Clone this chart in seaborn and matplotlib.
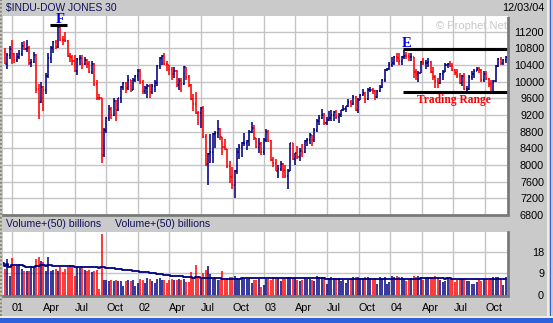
import numpy as np
import pandas as pd
import matplotlib
matplotlib.use("Agg")
import matplotlib.pyplot as plt
import matplotlib.dates as mdates
import seaborn as sns
from matplotlib.patches import Rectangle
from matplotlib.lines import Line2D

# ---------------- data (weekly bars, week starting Monday 2000-12-04) ----------------
first_week = "2000-12-04"
first_open = 10373

close_2000 = [10712, 10434, 10635, 10787]
high_2000 = [10900, 10800, 10700, 10850]
low_2000 = [10370, 10430, 10300, 10550]
vol_2000 = [13.4, 10.8, 14.8, 7.9]

close_2001 = [10662, 10525, 10587, 10659, 10864, 10781, 10799, 10441, 10466, 10644,
              9823, 9504, 9879, 9791, 10127, 10579, 10811, 10951, 10821, 11301,
              11005, 10991, 10977, 10623, 10604, 10502, 10252, 10539, 10577, 10417,
              10512, 10416, 10240, 10423, 9950, 9606, 9605, 8236, 8848, 9120,
              9344, 9205, 9545, 9324, 9608, 9867, 9960, 9852, 10049, 9812,
              10036, 10137, 10259]
high_2001 = [10990, 10700, 10700, 10760, 10950, 10980, 10990, 10850, 10550, 10720,
             10660, 9950, 9990, 9900, 10200, 10700, 10850, 10980, 10990, 11320,
             11350, 11100, 11190, 11000, 10700, 10650, 10650, 10580, 10650, 10640,
             10600, 10550, 10500, 10500, 10440, 10030, 9700, 9620, 8900, 9150,
             9430, 9400, 9600, 9550, 9620, 9900, 9990, 9990, 10150, 10050,
             10100, 10160, 10300]
low_2001 = [10430, 10450, 10480, 10540, 10620, 10750, 10720, 10400, 10350, 10450,
            9720, 9110, 9500, 9300, 9700, 10100, 10450, 10700, 10780, 10820,
            10970, 10870, 10950, 10600, 10480, 10400, 10240, 10150, 10400, 10300,
            10400, 10330, 10200, 10180, 9900, 9560, 9550, 8060, 8200, 8770,
            9050, 9100, 9180, 9050, 9300, 9500, 9800, 9730, 9800, 9750,
            9790, 9990, 10010]
vol_2001 = [15.2, 12.2, 12.0, 12.9, 10.8, 9.8, 9.8, 9.9, 12.2, 12.0,
            14.8, 15.7, 14.0, 13.6, 10.1, 15.7, 10.0, 10.3, 10.8, 10.0,
            11.5, 9.5, 10.8, 11.5, 12.5, 11.8, 8.0, 12.0, 11.5, 12.0,
            10.5, 9.8, 10.2, 9.5, 9.8, 10.5, 2.3, 25.5, 6.2, 6.0,
            5.8, 6.2, 5.9, 6.1, 5.5, 5.8, 3.8, 5.9, 6.2, 5.6,
            6.3, 3.5, 5.0]

close_2002 = [9988, 9772, 9841, 9908, 9745, 9904, 9968, 10368, 10572, 10608,
              10427, 10404, 10271, 10191, 10257, 9910, 10006, 9939, 10353, 10105,
              9925, 9589, 9474, 9253, 9243, 9380, 8684, 8019, 8264, 8313,
              8745, 8778, 8872, 8664, 8427, 8379, 7986, 7701, 7528, 7850,
              8322, 8444, 8517, 8537, 8579, 8804, 8896, 8645, 8433, 8511,
              8303, 8601]
high_2002 = [10300, 10050, 9900, 9950, 9950, 9950, 10050, 10400, 10600, 10650,
             10680, 10500, 10410, 10350, 10350, 10280, 10100, 10100, 10380, 10360,
             10150, 9950, 9700, 9750, 9300, 9400, 9420, 8750, 8300, 8750,
             8780, 8820, 9080, 8900, 8680, 8620, 8380, 8100, 7950, 7880,
             8400, 8500, 8560, 8780, 8600, 8850, 9040, 8950, 8650, 8650,
             8550, 8650]
low_2002 = [9940, 9700, 9700, 9600, 9620, 9700, 9750, 9900, 10300, 10400,
            10400, 10250, 10150, 10050, 10100, 9880, 9800, 9750, 9930, 10050,
            9880, 9550, 9300, 9230, 8950, 8900, 8650, 7980, 7530, 8050,
            8050, 8400, 8650, 8600, 8250, 8350, 7940, 7580, 7430, 7200,
            7780, 8150, 8200, 8450, 8350, 8450, 8780, 8600, 8400, 8300,
            8250, 8240]
vol_2002 = [6.5, 6.2, 4.8, 6.8, 6.5, 5.9, 5.0, 6.4, 6.9, 6.3,
            6.1, 4.7, 6.0, 6.4, 6.0, 6.2, 6.6, 6.3, 6.5, 5.4,
            5.2, 9.5, 7.0, 12.5, 8.0, 6.5, 9.0, 10.5, 11.8, 8.5,
            7.0, 6.8, 6.2, 6.0, 10.0, 6.2, 7.0, 7.2, 7.5, 7.8,
            7.0, 6.5, 6.8, 7.0, 6.5, 6.8, 5.0, 6.3, 6.0, 6.5,
            3.2, 4.2]

close_2003 = [8785, 8587, 8131, 8054, 7864, 7908, 8018, 7891, 7740, 7859,
              8522, 8145, 8278, 8203, 8338, 8307, 8583, 8604, 8713, 8601,
              8850, 9062, 9118, 9200, 9011, 9070, 9119, 9189, 9284, 9153,
              9191, 9321, 9348, 9415, 9503, 9471, 9644, 9313, 9572, 9674,
              9721, 9582, 9801, 9810, 9768, 9629, 9782, 9862, 10042, 10278,
              10305, 10409]
high_2003 = [8870, 8850, 8600, 8200, 8150, 8000, 8100, 8050, 8000, 7900,
             8540, 8530, 8300, 8450, 8400, 8500, 8600, 8650, 8760, 8720,
             8900, 9100, 9200, 9350, 9250, 9150, 9300, 9320, 9300, 9320,
             9250, 9330, 9450, 9420, 9590, 9550, 9680, 9660, 9600, 9700,
             9820, 9750, 9850, 9880, 9850, 9800, 9800, 9930, 10060, 10300,
             10330, 10470]
low_2003 = [8550, 8560, 8100, 7950, 7850, 7700, 7850, 7680, 7700, 7420,
            7850, 8120, 7990, 8150, 8100, 8200, 8280, 8450, 8500, 8450,
            8550, 8800, 8950, 9100, 8950, 8950, 9050, 9050, 9050, 9100,
            9000, 9150, 9300, 9280, 9400, 9400, 9450, 9300, 9250, 9550,
            9650, 9500, 9560, 9750, 9700, 9550, 9600, 9750, 9850, 10000,
            10250, 10280]
vol_2003 = [6.5, 6.7, 6.2, 7.3, 7.0, 6.8, 5.6, 7.1, 6.6, 7.3,
            7.5, 6.8, 6.9, 6.2, 5.5, 6.0, 6.9, 6.7, 6.6, 6.3,
            5.9, 7.6, 7.3, 7.4, 7.2, 4.6, 6.8, 7.3, 7.0, 7.1,
            6.8, 5.5, 6.3, 4.8, 6.1, 6.9, 7.4, 7.5, 7.2, 6.8,
            7.0, 7.3, 7.5, 7.0, 6.6, 6.9, 4.4, 7.2, 7.0, 7.5,
            4.5, 5.2]

close_2004 = [10458, 10600, 10568, 10488, 10593, 10628, 10620, 10584, 10595, 10240,
              10186, 10212, 10470, 10442, 10452, 10472, 10226, 10118, 10012, 9966,
              10188, 10243, 10410, 10417, 10371, 10283, 10214, 10140, 9962, 10140,
              9815, 9825, 10110, 10196, 10260, 10314, 10284, 10047, 10193, 10055,
              9933, 9758, 10027, 10387, 10539, 10456, 10522, 10592]
high_2004 = [10600, 10620, 10700, 10680, 10620, 10760, 10720, 10680, 10700, 10600,
             10300, 10250, 10500, 10570, 10530, 10560, 10500, 10350, 10150, 10100,
             10200, 10280, 10450, 10450, 10500, 10450, 10300, 10300, 10200, 10150,
             10200, 9900, 10150, 10250, 10300, 10350, 10350, 10300, 10250, 10250,
             10100, 10050, 10050, 10400, 10580, 10600, 10550, 10620]
low_2004 = [10350, 10400, 10480, 10400, 10400, 10550, 10550, 10500, 10500, 10100,
            10050, 10000, 10200, 10400, 10300, 10350, 10200, 10050, 9850, 9850,
            9950, 10050, 10230, 10330, 10350, 10250, 10150, 10100, 9950, 9900,
            9800, 9750, 9800, 10050, 10100, 10250, 10200, 10000, 10000, 10030,
            9880, 9750, 9710, 9990, 10350, 10400, 10400, 10450]
vol_2004 = [7.6, 7.4, 7.8, 7.5, 7.3, 6.9, 5.9, 6.7, 6.8, 7.6,
            7.4, 7.8, 7.2, 6.0, 6.8, 7.3, 7.3, 7.0, 7.6, 7.0,
            6.2, 5.3, 5.8, 6.9, 6.4, 6.6, 5.2, 6.0, 6.5, 6.7,
            6.4, 5.5, 5.8, 4.5, 4.6, 5.3, 6.1, 5.7, 6.5, 6.6,
            6.2, 6.8, 7.2, 7.4, 7.3, 7.1, 4.2, 7.5]

quarter_labels = ["01", "Apr", "Jul", "Oct", "02", "Apr", "Jul", "Oct",
                  "03", "Apr", "Jul", "Oct", "04", "Apr", "Jul", "Oct"]
price_ticks = [6800, 7200, 7600, 8000, 8400, 8800, 9200, 9600, 10000, 10400, 10800, 11200]
vol_ticks = [0, 9, 18]
ma_window = 50
range_top, range_bottom = 10774, 9744

# ---------------- assemble ----------------
close = np.array(close_2000 + close_2001 + close_2002 + close_2003 + close_2004, float)
high = np.array(high_2000 + high_2001 + high_2002 + high_2003 + high_2004, float)
low = np.array(low_2000 + low_2001 + low_2002 + low_2003 + low_2004, float)
vol = np.array(vol_2000 + vol_2001 + vol_2002 + vol_2003 + vol_2004, float)
opn = np.concatenate([[first_open], close[:-1]])
weeks = pd.date_range(first_week, periods=len(close), freq="7D")
df = pd.DataFrame({"week": weeks, "open": opn, "high": high, "low": low,
                   "close": close, "volume": vol})
df["ma"] = df["volume"].rolling(ma_window, min_periods=1).mean()
df["x"] = mdates.date2num(df["week"])

NAVY = "#000080"
RED = "#ff0000"
BG = "#cacaca"
GRID = "#c4c4c4"
df["color"] = np.where(df["close"] < df["open"], RED, NAVY)

sns.set_theme(style="white")
plt.rcParams["font.family"] = ["Liberation Sans", "DejaVu Sans"]

W, H = 553, 323
fig = plt.figure(figsize=(W / 100, H / 100), dpi=100, facecolor=BG)


def rect(x0, y0, x1, y1):
    return [x0 / W, 1 - y1 / H, (x1 - x0) / W, (y1 - y0) / H]


ax = fig.add_axes(rect(3, 16, 508, 215))
axv = fig.add_axes(rect(3, 232, 508, 296))

xlo = mdates.date2num(pd.Timestamp("2000-12-06"))
xhi = mdates.date2num(pd.Timestamp("2004-12-06"))
qtr = mdates.date2num(pd.date_range("2001-01-01", "2004-10-01", freq="QS"))

for a in (ax, axv):
    a.set_facecolor("white")
    a.set_xlim(xlo, xhi)
    a.set_xticks(qtr)
    a.grid(True, color=GRID, lw=1.0)
    a.set_axisbelow(True)
    for s in ("top", "left"):
        a.spines[s].set_visible(False)
    for s in ("right", "bottom"):
        a.spines[s].set_color("#7a7a7a")
        a.spines[s].set_linewidth(2)
        a.spines[s].set_linestyle((0, (1, 1)))
    a.yaxis.tick_right()
    a.tick_params(axis="y", length=0, pad=26, labelsize=7.8, colors="black")
    a.tick_params(axis="x", length=0)

# price bars
half = 3.0
ax.vlines(df["x"], df["low"], df["high"], colors=df["color"], lw=1.15)
ax.hlines(df["open"], df["x"] - half, df["x"], colors=df["color"], lw=1.1)
ax.hlines(df["close"], df["x"], df["x"] + half, colors=df["color"], lw=1.1)
ax.set_ylim(6810, 11576)
ax.set_yticks(price_ticks)
ax.set_yticklabels([str(t) for t in price_ticks], ha="right")
ax.tick_params(axis="x", labelbottom=False)

# volume
vlo = -0.6
axv.set_ylim(vlo, 26.3)
axv.vlines(df["x"], vlo, df["volume"], colors=df["color"], lw=1.1)
sns.lineplot(data=df, x="x", y="ma", ax=axv, color=NAVY, linewidth=1.3,
             drawstyle="steps-mid")
axv.set_xlim(xlo, xhi)
axv.set_xlabel("")
axv.set_ylabel("")
ax.set_xlabel("")
ax.set_ylabel("")
axv.set_yticks(vol_ticks)
axv.set_yticklabels([str(t) for t in vol_ticks], ha="right")
axv.set_xticks(qtr)
axv.set_xticklabels(quarter_labels, ha="left")
axv.tick_params(axis="x", labelsize=7.8, pad=5, colors="black")

# annotations
d = lambda s: mdates.date2num(pd.Timestamp(s))
serif = ["Liberation Serif", "DejaVu Serif"]
ax.plot([d("2001-04-21"), d("2001-06-08")], [11365, 11365], color="black", lw=2.2,
        solid_capstyle="butt", clip_on=False)
ax.text(d("2001-05-20"), 11500, "F", family=serif, weight="bold", fontsize=10.5,
        color="#0000ee", ha="center", va="center", clip_on=False)
ax.text(d("2004-02-17"), 10917, "E", family=serif, weight="bold", fontsize=10.5,
        color="#0000ee", ha="center", va="center")
ax.plot([d("2004-02-07"), xhi], [range_top, range_top], color="black", lw=2.2,
        solid_capstyle="butt")
ax.plot([d("2004-02-07"), xhi], [range_bottom, range_bottom], color="black", lw=2.2,
        solid_capstyle="butt")
ax.text(d("2004-07-01"), 9570, "Trading Range", family=serif, weight="bold",
        fontsize=8.3, color=RED, ha="center", va="center")
ax.text(0.997, 0.95, "© Prophet.Net", transform=ax.transAxes, ha="right",
        va="center", fontsize=8, color="#c8c8c8")

# header texts
fig.text(6 / W, 1 - 7.5 / H, r"\$INDU-DOW JONES 30", fontsize=7.4, color="#10105a",
         ha="left", va="center")
fig.text(544 / W, 1 - 8 / H, "12/03/04", fontsize=7.8, color="black",
         ha="right", va="center")
fig.text(6 / W, 1 - 224.3 / H, "Volume+(50) billions", fontsize=7.6, color="#10105a",
         ha="left", va="center")
fig.text(115 / W, 1 - 224.3 / H, "Volume+(50) billions", fontsize=7.6, color="#10105a",
         ha="left", va="center")

# window chrome
fig.add_artist(Rectangle((0, 0), 1, 5 / H, transform=fig.transFigure,
                         facecolor="#2d62dc", edgecolor="none"))
fig.add_artist(Rectangle((0, 5 / H), 1, 2 / H, transform=fig.transFigure,
                         facecolor="#f2ecd8", edgecolor="none"))
fig.add_artist(Rectangle((547 / W, 7 / H), 1.6 / W, 1 - 7 / H, transform=fig.transFigure,
                         facecolor="#f2ecd8", edgecolor="none"))
fig.add_artist(Rectangle((549.5 / W, 7 / H), 1.6 / W, 1 - 7 / H, transform=fig.transFigure,
                         facecolor="#2d62dc", edgecolor="none"))
fig.add_artist(Line2D([1 / W, 1 / W], [7 / H, 1], transform=fig.transFigure,
                      color="#8a8a70", lw=1.4, linestyle=(0, (1, 1))))

fig.savefig("out.png", dpi=100, facecolor=BG)
